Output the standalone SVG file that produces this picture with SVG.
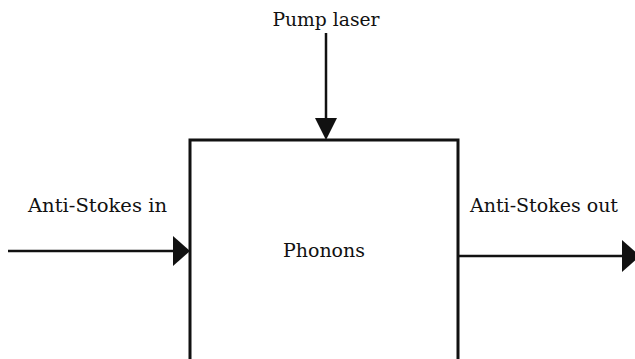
<svg xmlns="http://www.w3.org/2000/svg" width="635" height="359" viewBox="0 0 635 359">
<style>
text{font-family:"DejaVu Serif","Liberation Serif",serif;font-size:18px;fill:#111}
.ln{stroke:#111;stroke-width:2.5;fill:none}
.box{stroke:#111;stroke-width:3;fill:#fff}
.ah{fill:#111;stroke:none}
</style>
<rect width="635" height="359" fill="#fff"/>
<g id="phonons">
<path class="box" d="M190,366 V140 H458 V366"/>
<text x="324" y="257" text-anchor="middle" textLength="82" lengthAdjust="spacingAndGlyphs">Phonons</text>
</g>
<g id="pump-label"><text x="326" y="26" text-anchor="middle" textLength="107" lengthAdjust="spacingAndGlyphs">Pump laser</text></g>
<g id="in-label"><text x="28" y="212" textLength="139" lengthAdjust="spacingAndGlyphs">Anti-Stokes in</text></g>
<g id="out-label"><text x="470" y="212" textLength="148" lengthAdjust="spacingAndGlyphs">Anti-Stokes out</text></g>
<g id="connectors">
<line class="ln" x1="326" y1="33" x2="326" y2="120"/>
<polygon class="ah" points="315,118 337,118 326,140"/>
<line class="ln" x1="8" y1="251" x2="175" y2="251"/>
<polygon class="ah" points="173,236 190,251 173,266"/>
<line class="ln" x1="458" y1="256" x2="625" y2="256"/>
<polygon class="ah" points="622,240 640,256 622,272"/>
</g>
</svg>
